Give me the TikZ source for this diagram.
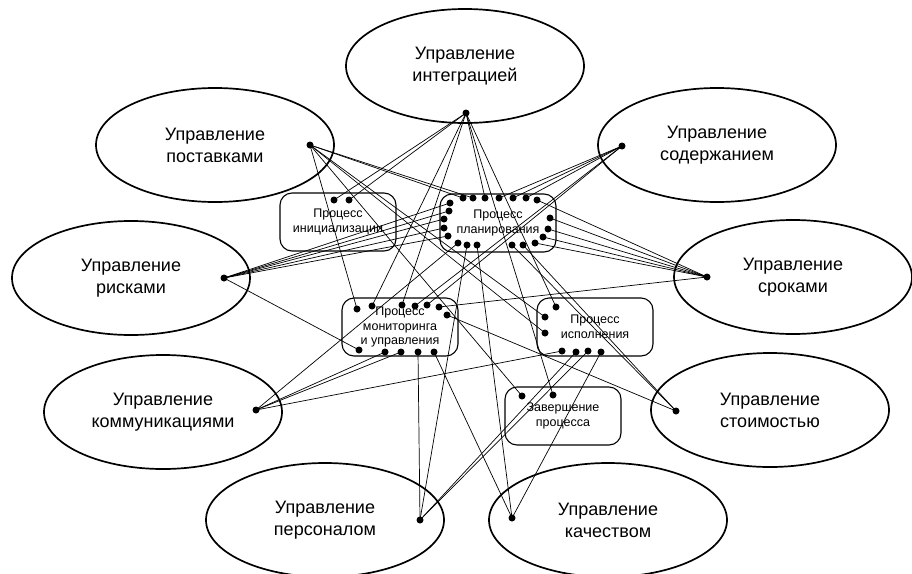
\documentclass[tikz,border=0pt]{standalone}
\usepackage{fontspec}
\setmainfont{Liberation Sans}
\usetikzlibrary{shapes.geometric}

\tikzset{
  area/.style={draw, ellipse, line width=1.7pt, minimum width=238pt, minimum height=114pt,
    inner sep=0pt, align=center, font=\fontsize{18}{22}\selectfont},
  proc/.style={draw, rectangle, rounded corners=12pt, line width=1.1pt, minimum width=116pt,
    minimum height=58pt, align=center, font=\fontsize{12.5}{14.5}\selectfont},
  link/.style={line width=0.7pt},
}

\begin{document}
\begin{tikzpicture}[x=1pt,y=-1pt]
  \useasboundingbox (0,0) rectangle (912,573);
  \clip (0,0) rectangle (912,573);

  % Knowledge areas
  \node[area] (integ) at (465,66) {Управление\\интеграцией};
  \node[area] (supply) at (215,145) {Управление\\поставками};
  \node[area] (scope) at (717,145) {Управление\\содержанием};
  \node[area] (risk) at (131,278) {Управление\\рисками};
  \node[area] (time) at (793,277) {Управление\\сроками};
  \node[area] (comm) at (163,412) {Управление\\коммуникациями};
  \node[area] (cost) at (770,410) {Управление\\стоимостью};
  \node[area] (staff) at (325,520) {Управление\\персоналом};
  \node[area] (qual) at (608,520) {Управление\\качеством};

  % Hub points inside the areas
  \coordinate (integ-p) at (466,113);
  \coordinate (supply-p) at (310,145);
  \coordinate (scope-p) at (622,146);
  \coordinate (risk-p) at (224,278);
  \coordinate (time-p) at (707,277);
  \coordinate (comm-p) at (256,410);
  \coordinate (cost-p) at (676,411);
  \coordinate (staff-p) at (420,520);
  \coordinate (qual-p) at (512,518);

  % Process groups
  \node[proc] (init) at (338,222) {Процесс\\инициализации};
  \node[proc] (plan) at (498,223) {Процесс\\планирования};
  \node[proc] (mon) at (400,327) {Процесс\\мониторинга\\и управления};
  \node[proc] (exec) at (595,327) {Процесс\\исполнения};
  \node[proc] (close) at (563,416) {Завершение\\процесса};

  % Dots on the process boxes
  \foreach \n/\x/\y in {1/334/200, 2/349/200}
    \coordinate (in\n) at (\x,\y);
  \foreach \n/\x/\y in {1/463/198, 2/473/198, 3/485/198, 4/499/198, 5/513/198, 6/526/198,
      7/537/200, 8/550/218, 9/548/229, 10/543/237, 11/535/243, 12/523/245, 13/512/245,
      14/477/245, 15/467/245, 16/458/243, 17/448/236, 18/444/228, 19/444/219, 20/449/211,
      21/450/203}
    \coordinate (pl\n) at (\x,\y);
  \foreach \n/\x/\y in {1/357/309, 2/372/306, 3/402/305, 4/415/306, 5/427/305, 6/439/307,
      7/447/315, 8/359/350, 9/385/352, 10/401/352, 11/418/352, 12/434/352}
    \coordinate (mo\n) at (\x,\y);
  \foreach \n/\x/\y in {1/556/307, 2/545/317, 3/545/333, 4/562/351, 5/576/352, 6/588/351,
      7/601/352}
    \coordinate (ex\n) at (\x,\y);
  \foreach \n/\x/\y in {1/522/396, 2/553/395}
    \coordinate (cl\n) at (\x,\y);

  % Links from areas to processes
  \foreach \t in {in1,in2,pl3,mo2,mo3,ex1,cl2} \draw[link] (integ-p) -- (\t);
  \foreach \t in {pl1,pl2,ex2,ex3,mo1,cl1} \draw[link] (supply-p) -- (\t);
  \foreach \t in {pl4,pl5,pl6,mo4,mo5} \draw[link] (scope-p) -- (\t);
  \foreach \t in {pl7,pl8,pl9,pl10,pl11,mo6} \draw[link] (time-p) -- (\t);
  \foreach \t in {pl12,pl13,mo7} \draw[link] (cost-p) -- (\t);
  \foreach \t in {pl14,ex7,mo12} \draw[link] (qual-p) -- (\t);
  \foreach \t in {pl15,ex5,ex6,mo11} \draw[link] (staff-p) -- (\t);
  \foreach \t in {pl16,ex4,mo9,mo10} \draw[link] (comm-p) -- (\t);
  \foreach \t in {pl17,pl18,pl19,pl20,pl21,mo8} \draw[link] (risk-p) -- (\t);

  % Dots
  \foreach \d in {integ-p,supply-p,scope-p,risk-p,time-p,comm-p,cost-p,staff-p,qual-p}
    \fill (\d) circle (3.5pt);
  \foreach \n in {1,2} \fill (in\n) circle (3.5pt);
  \foreach \n in {1,...,21} \fill (pl\n) circle (3.5pt);
  \foreach \n in {1,...,12} \fill (mo\n) circle (3.5pt);
  \foreach \n in {1,...,7} \fill (ex\n) circle (3.5pt);
  \foreach \n in {1,2} \fill (cl\n) circle (3.5pt);
\end{tikzpicture}
\end{document}
